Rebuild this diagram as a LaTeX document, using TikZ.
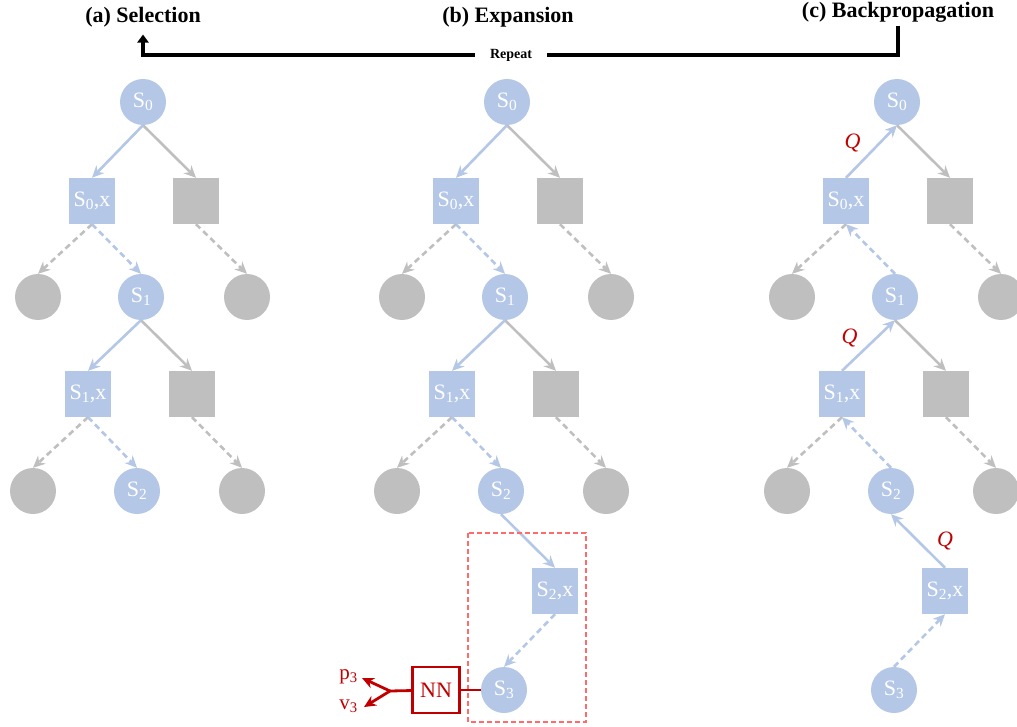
\documentclass[tikz,border=0pt]{standalone}
\usepackage{fontspec}
\setmainfont{Liberation Serif}
\usepackage{xcolor}
\usetikzlibrary{arrows.meta}
\usetikzlibrary{positioning}

\definecolor{nodeblue}{HTML}{B4C7E7}
\definecolor{nodegray}{HTML}{BFBFBF}
\definecolor{nnred}{HTML}{C00000}
\definecolor{boxred}{HTML}{FF6B6B}

\tikzset{
  state/.style={circle,fill=nodeblue,text=white,minimum size=46pt,inner sep=0pt,font=\fontsize{22}{22}\selectfont},
  graystate/.style={circle,fill=nodegray,minimum size=46pt,inner sep=0pt},
  action/.style={rectangle,fill=nodeblue,text=white,minimum size=46pt,inner sep=0pt,font=\fontsize{22}{22}\selectfont},
  grayaction/.style={rectangle,fill=nodegray,minimum size=46pt,inner sep=0pt},
  blueedge/.style={draw=nodeblue,line width=2.6pt,-{Stealth[length=12pt,width=11pt]}},
  grayedge/.style={draw=nodegray,line width=2.6pt,-{Stealth[length=12pt,width=11pt]}},
  bluedash/.style={blueedge,dash pattern=on 6pt off 4pt},
  graydash/.style={grayedge,dash pattern=on 6pt off 4pt},
  title/.style={font=\bfseries\fontsize{22}{22}\selectfont},
  qlabel/.style={text=nnred,font=\itshape\fontsize{22}{22}\selectfont},
  redline/.style={draw=nnred,line width=2.8pt}
}

\begin{document}
\begin{tikzpicture}[x=1pt,y=-1pt]
\useasboundingbox (0,0) rectangle (1017,727);

% titles and the repeat loop
\node[title] (titlea) at (143,17) {(a) Selection};
\node[title] (titleb) at (508,17) {(b) Expansion};
\node[title] (titlec) at (898,12) {(c) Backpropagation};
\node[font=\bfseries\fontsize{14}{14}\selectfont,inner xsep=15pt] (repeat) at (511,55) {Repeat};
\draw[line width=3.5pt] (titlec.south) |- (repeat.east);
\draw[line width=3.5pt,-{Triangle[length=8pt,width=11pt]},shorten >=4pt] (repeat.west) -| (titlea.south);

% the three search trees
\foreach \p/\x in {a/143,b/507,c/897} {
  \node[state] (\p s0) at (\x,102) {S\textsubscript{0}};
  \node[action] (\p s0x) at (\x-51,201) {S\textsubscript{0},x};
  \node[grayaction] (\p g1) at (\x+53,201) {};
  \node[graystate] (\p g2) at (\x-105,297) {};
  \node[state] (\p s1) at (\x-2,297) {S\textsubscript{1}};
  \node[graystate] (\p g3) at (\x+104,297) {};
  \node[action] (\p s1x) at (\x-55,394) {S\textsubscript{1},x};
  \node[grayaction] (\p g4) at (\x+49,394) {};
  \node[graystate] (\p g5) at (\x-110,491) {};
  \node[state] (\p s2) at (\x-6,491) {S\textsubscript{2}};
  \node[graystate] (\p g6) at (\x+99,491) {};
}
\foreach \p/\x in {b/507,c/897} {
  \node[action] (\p s2x) at (\x+48,591) {S\textsubscript{2},x};
  \node[state] (\p s3) at (\x-3,690) {S\textsubscript{3}};
}

% gray edges, the same in every panel
\foreach \p in {a,b,c} {
  \draw[grayedge] (\p s0.south) -- (\p g1.north);
  \draw[graydash] (\p s0x.south) -- (\p g2.north);
  \draw[graydash] (\p g1.south) -- (\p g3.north);
  \draw[grayedge] (\p s1.south) -- (\p g4.north);
  \draw[graydash] (\p s1x.south) -- (\p g5.north);
  \draw[graydash] (\p g4.south) -- (\p g6.north);
}

% selection and expansion go down
\foreach \p in {a,b} {
  \draw[blueedge] (\p s0.south) -- (\p s0x.north);
  \draw[bluedash] (\p s0x.south) -- (\p s1.north);
  \draw[blueedge] (\p s1.south) -- (\p s1x.north);
  \draw[bluedash] (\p s1x.south) -- (\p s2.north);
}
\draw[blueedge] (bs2.south) -- (bs2x.north);
\draw[bluedash] (bs2x.south) -- (bs3.north);

% expanded leaf and network
\draw[boxred,line width=1.3pt,dash pattern=on 5pt off 3pt] (468,533) rectangle (586,722);
\node[draw=nnred,line width=2.8pt,text=nnred,minimum width=47pt,minimum height=46pt,inner sep=0pt,font=\fontsize{22}{22}\selectfont] (nn) at (436,690) {NN};
\coordinate (fork) at (390,691);
\coordinate (ptip) at (362,678);
\coordinate (vtip) at (364,707);
\node[text=nnred,font=\fontsize{21}{21}\selectfont,inner sep=1pt,anchor=east] (p3) at (359,677) {p\textsubscript{3}};
\node[text=nnred,font=\fontsize{21}{21}\selectfont,inner sep=1pt,anchor=east] (v3) at (359,706) {v\textsubscript{3}};
\draw[redline] (bs3) -- (nn);
\draw[redline] (nn) -- (fork);
\draw[redline,-{Stealth[length=12pt,width=11pt]}] (fork) -- (ptip);
\draw[redline,-{Stealth[length=12pt,width=11pt]}] (fork) -- (vtip);

% backpropagation goes up
\draw[bluedash] (cs3.north) -- (cs2x.south);
\draw[blueedge] (cs2x.north) -- node[qlabel,midway,xshift=27pt] {Q} (cs2.south);
\draw[bluedash] (cs2.north) -- (cs1x.south);
\draw[blueedge] (cs1x.north) -- node[qlabel,midway,xshift=-19pt,yshift=8pt] {Q} (cs1.south);
\draw[bluedash] (cs1.north) -- (cs0x.south);
\draw[blueedge] (cs0x.north) -- node[qlabel,midway,xshift=-19pt,yshift=8pt] {Q} (cs0.south);
\end{tikzpicture}
\end{document}
